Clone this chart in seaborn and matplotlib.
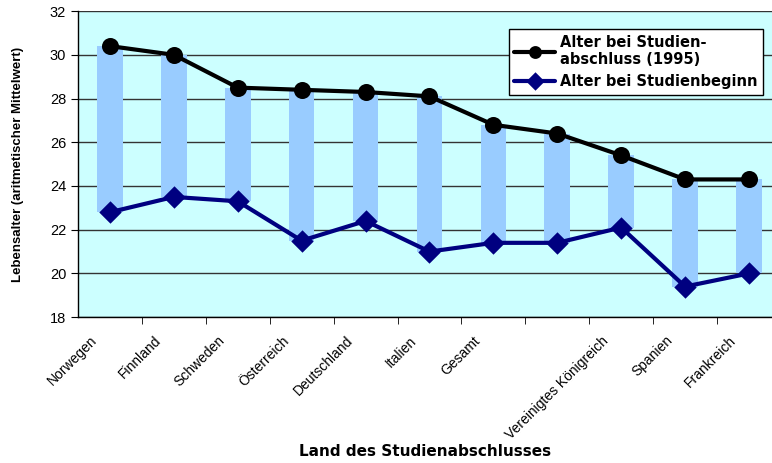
import pandas as pd
import matplotlib.pyplot as plt
import matplotlib.transforms as mtransforms
import seaborn as sns

# Data
laender = ['Norwegen', 'Finnland', 'Schweden', 'Österreich', 'Deutschland', 'Italien',
           'Gesamt', 'Niederlande', 'Vereinigtes Königreich', 'Spanien', 'Frankreich']
tick_labels = ['Norwegen', 'Finnland', 'Schweden', 'Österreich', 'Deutschland', 'Italien',
               'Gesamt', '', 'Vereinigtes Königreich', 'Spanien', 'Frankreich']
abschluss = [30.4, 30.0, 28.5, 28.4, 28.3, 28.1, 26.8, 26.4, 25.4, 24.3, 24.3]
beginn = [22.8, 23.5, 23.3, 21.5, 22.4, 21.0, 21.4, 21.4, 22.1, 19.4, 20.0]

df = pd.DataFrame({'Land': laender, 'Abschluss': abschluss, 'Beginn': beginn})
df['Dauer'] = df['Abschluss'] - df['Beginn']

sns.set_style('white')
plt.rcParams['font.family'] = ['Liberation Sans', 'DejaVu Sans']
plt.rcParams['text.color'] = 'black'
plt.rcParams['axes.labelcolor'] = 'black'
plt.rcParams['xtick.color'] = 'black'
plt.rcParams['ytick.color'] = 'black'

fig = plt.figure(figsize=(7.72, 4.63), dpi=100)
ax = fig.add_axes([0.101, 0.315, 0.899, 0.661])
ax.set_facecolor('#CCFFFF')

# light blue range bars between start and end age
ax.bar(range(len(df)), df['Dauer'], bottom=df['Beginn'], width=0.4,
       color='#99CCFF', linewidth=0, zorder=2)

sns.pointplot(data=df, x='Land', y='Abschluss', color='black', marker='o',
              markersize=10, linewidth=3, label='Alter bei Studien-\nabschluss (1995)',
              ax=ax, zorder=4)
sns.pointplot(data=df, x='Land', y='Beginn', color='#000080', marker='D',
              markersize=9, linewidth=3, label='Alter bei Studienbeginn',
              ax=ax, zorder=3)

ax.set_ylim(18, 32)
ax.set_xlim(-0.5, 10.36)
ax.set_yticks(range(18, 33, 2))
ax.yaxis.grid(True, color='#333333', linewidth=1)
ax.set_axisbelow(True)

ax.set_xticks(range(len(df)))
ax.set_xticklabels(tick_labels, rotation=45, ha='right', rotation_mode='anchor', fontsize=10)
ax.tick_params(axis='x', length=0, pad=6)
shift = mtransforms.ScaledTranslation(-20 / 100, -8 / 100, fig.dpi_scale_trans)
for lbl in ax.get_xticklabels():
    lbl.set_transform(lbl.get_transform() + shift)
ax.tick_params(axis='y', left=True, length=5, labelsize=10.5)
# category boundary ticks
ax.set_xticks([i + 0.5 for i in range(len(df) - 1)], minor=True)
ax.tick_params(axis='x', which='minor', bottom=True, length=5)

for s in ['left', 'bottom']:
    ax.spines[s].set_color('black')
    ax.spines[s].set_linewidth(1)
ax.spines['top'].set_visible(False)
ax.spines['right'].set_visible(False)

ax.set_xlabel('Land des Studienabschlusses', fontsize=11, fontweight='bold',
              family=['DejaVu Sans'])
ax.xaxis.set_label_coords(0.5, -0.44)
ax.xaxis.label.set_va('center')
ax.set_ylabel('Lebensalter (aritmetischer Mittelwert)', fontsize=9.5, fontweight='bold')
ax.yaxis.set_label_coords(-0.087, 0.5)
ax.yaxis.label.set_va('center')

leg = ax.legend(loc='upper left', bbox_to_anchor=(0.61, 0.966), frameon=True, fancybox=False,
                framealpha=1, edgecolor='black',
                prop={'weight': 'bold', 'size': 10.5, 'family': 'DejaVu Sans'},
                handlelength=2.8, handletextpad=0.3, borderpad=0.4, labelspacing=0.5)
leg.get_frame().set_linewidth(1)
for h in leg.legend_handles:
    h.set_markersize(7)

fig.savefig('out.png', dpi=100)
